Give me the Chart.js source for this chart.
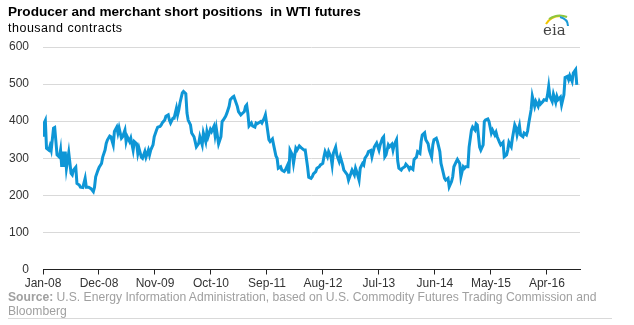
<!DOCTYPE html>
<html>
<head>
<meta charset="utf-8">
<script src="https://cdn.jsdelivr.net/npm/chart.js@4.4.1/dist/chart.umd.min.js"></script>
<style>
  body { margin: 0; background: #fff; }
  #wrap { position: relative; width: 634px; height: 325px; overflow: hidden; font-family: "Liberation Sans", Arial, sans-serif; }
  #graph { position: absolute; left: 0; top: 0; }
  .txt { position: absolute; left: 8px; white-space: nowrap; }
  #title { top: 4px; font-size: 13.6px; font-weight: bold; color: #000; }
  #unit { top: 21px; font-size: 12.5px; letter-spacing: 0.5px; color: #000; }
  #source { top: 290px; font-size: 12.15px; line-height: 14px; color: #a0a0a0; }
  #source b { color: #a0a0a0; }
  #rule { position: absolute; left: 8px; top: 318px; width: 604px; height: 1px; background: #d9d9d9; }
  #logo { position: absolute; left: 538px; top: 10px; }
</style>
</head>
<body>
<div id="wrap">
  <canvas id="graph" width="634" height="325"></canvas>
  <div class="txt" id="title">Producer and merchant short positions&nbsp; in WTI futures</div>
  <div class="txt" id="unit">thousand contracts</div>
  <div class="txt" id="source"><b>Source:</b> U.S. Energy Information Administration, based on U.S. Commodity Futures Trading Commission and<br>Bloomberg</div>
  <div id="rule"></div>
  <svg id="logo" width="40" height="30" viewBox="0 0 40 30">
    <path d="M8 14 Q13 6 22 6" stroke="#f2c500" stroke-width="2" fill="none"/>
    <path d="M11 9 Q20 3 29 7" stroke="#8cc63f" stroke-width="2" fill="none"/>
    <path d="M22 7 Q30 9 30 16" stroke="#1b9ad6" stroke-width="2" fill="none"/>
    <text x="5" y="25" font-family="DejaVu Serif, serif" font-size="15" fill="#444">eia</text>
  </svg>
</div>
<script>
const blue =  'rgb(14, 150, 214)'
const grid =  'rgb(217, 217, 217)'
const dark =  'rgb(34, 34, 34)'

// weeks since first week of Jan 2008
const weeks = [
  0,1,2,3,5,6,7,9,10,12,14,15,16,17,18,19,20,22,24,25,26,28,29,31,32,34,36,37,39,41,43,44,45,47,48,50,51,53,54,55,57,58,60,61,63,64,65,67,68,70,71,
  72,74,75,77,78,80,81,82,84,85,87,88,90,91,92,94,95,97,98,100,101,102,104,105,107,108,109,111,112,114,115,116,117,119,120,122,123,124,126,127,129,130,131,133,134,136,137,139,140,141,143,144,146,147,
  148,150,152,153,154,156,157,159,160,162,163,164,166,167,169,170,172,173,174,175,176,178,179,181,182,183,184,186,187,189,190,191,193,194,196,197,199,200,201,203,204,206,207,209,210,211,213,214,216,217,219,220,221,223,224,
  226,227,229,230,231,233,234,236,237,239,240,241,243,244,246,247,248,250,251,253,254,256,257,258,260,261,263,264,266,267,268,270,271,273,274,275,277,278,280,281,283,284,285,287,288,290,291,292,293,295,296,298,299,300,302,
  303,304,306,307,309,310,312,313,314,316,317,319,320,322,323,324,326,327,329,330,332,333,334,336,337,339,340,341,343,344,346,347,349,350,351,353,354,356,357,359,360,361,363,364,366,367,369,370,371,373,374,376,377,378,
  380,381,383,384,386,387,388,390,391,393,394,396,397,398,400,401,403,404,405,407,408,410,411,413,414,415,417,418,420,421,423,424,425,427,428,430,431,432,433,435,436,438,439,440,442,443,445,446,448,449,450,452,453,455,456
]
// short positions, thousand contracts
const shorts = [
  358,395,402,327,322,333,322,381,383,309,303,322,277,318,277,318,273,315,259,255,268,276,232,228,222,221,246,222,222,218,210,222,250,268,276,286,303,322,340,349,360,358,336,372,384,368,382,354,358,376,345,
  358,345,354,322,345,339,313,327,303,300,318,303,322,309,322,336,358,376,384,386,390,396,403,413,417,403,395,408,408,435,417,430,449,476,480,474,422,403,390,368,358,345,331,340,358,336,368,345,372,358,378,372,386,362,
  381,339,358,399,403,413,421,440,458,465,467,458,440,426,417,420,426,440,444,421,387,395,387,384,395,393,395,399,395,408,417,395,350,345,352,336,306,300,273,277,268,264,268,282,259,322,309,286,327,322,333,330,327,322,322,
  277,249,246,250,258,264,273,277,282,286,304,318,304,318,303,282,313,330,309,291,304,282,268,264,255,241,259,268,255,273,264,241,273,286,282,300,309,318,321,304,330,336,341,322,336,354,358,304,309,336,331,338,322,336,350,
  293,273,268,273,277,284,277,270,275,270,297,303,318,313,345,363,369,350,339,322,303,336,350,354,345,318,286,273,246,241,246,223,237,250,277,291,297,286,250,277,273,277,277,330,376,384,376,393,390,330,322,336,399,403,
  406,399,368,376,363,370,358,343,336,343,304,309,322,343,331,354,390,383,363,388,363,358,368,363,374,395,431,467,440,453,440,453,446,453,458,456,471,494,467,453,473,451,467,458,465,444,471,518,521,512,523,507,530,539,498
]

// x axis ticks, months since Jan 2008
const tickMonths = [0, 11, 22, 33, 44, 55, 66, 77, 88, 99]
const tickLabels = ['Jan-08', 'Dec-08', 'Nov-09', 'Oct-10', 'Sep-11', 'Aug-12', 'Jul-13', 'Jun-14', 'May-15', 'Apr-16']

const points = weeks.map((w, i) => ({x: w * 7 / 30.4375, y: shorts[i]}))

Chart.defaults.font.family = '"Liberation Sans", Arial, sans-serif'
Chart.defaults.font.size = 12

new Chart(document.getElementById('graph'), {
    type: 'line',
    data: {
        datasets: [{
            data: points,
            borderColor: blue,
            borderWidth: 3,
            pointRadius: 0,
            tension: 0,
            fill: false,
        }]
    },
    options: {
        responsive: false,
        animation: false,
        layout: {padding: {top: 47, right: 54, bottom: 0, left: 0}},
        plugins: {legend: {display: false}, tooltip: {enabled: false}},
        scales: {
            x: {
                type: 'linear',
                min: 0,
                max: 105.5,
                afterBuildTicks: (scale) => { scale.ticks = tickMonths.map(v => ({value: v})) },
                afterFit: (scale) => { scale.height = 55.5 },
                ticks: {
                    color: '#333',
                    padding: 2,
                    maxRotation: 0,
                    autoSkip: false,
                    callback: (value) => tickLabels[tickMonths.indexOf(value)]
                },
                grid: {drawOnChartArea: false, drawTicks: true, tickLength: 5, color: dark},
                border: {display: true, color: dark, width: 1}
            },
            y: {
                min: 0,
                max: 600,
                afterFit: (scale) => { scale.width = 43 },
                ticks: {stepSize: 100, color: '#333', padding: 14},
                grid: {color: grid, drawTicks: false},
                border: {display: false}
            }
        }
    }
})
</script>
</body>
</html>
